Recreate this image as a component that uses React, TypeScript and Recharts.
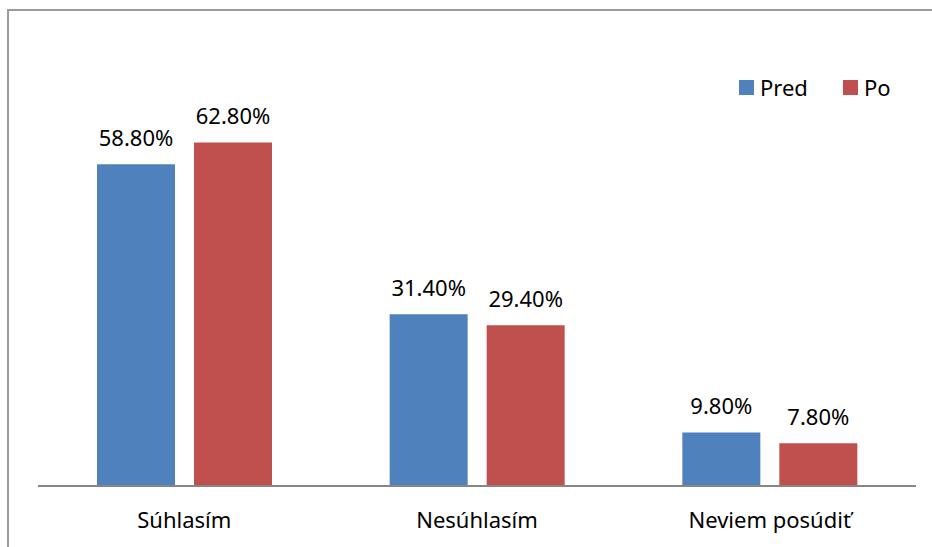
import { BarChart, Bar, XAxis, YAxis, LabelList } from 'recharts';

const categories = ['Súhlasím', 'Nesúhlasím', 'Neviem posúdiť'];
const pred = [58.8, 31.4, 9.8];
const po = [62.8, 29.4, 7.8];

const BLUE = '#4F81BD';
const RED = '#C0504D';
const FONT = '"Noto Sans", sans-serif';
const FS = 22;

const data = categories.map((name, i) => ({ name, pred: pred[i], po: po[i] }));

function LegendBox() {
  const item = (color: string, label: string, width: number) => (
    <div style={{ display: 'flex', alignItems: 'center', width }}>
      <span style={{ width: 15, height: 15, background: color, display: 'inline-block', marginRight: 6 }} />
      <span style={{ fontSize: FS, color: '#000', fontFamily: FONT, lineHeight: '22px' }}>{label}</span>
    </div>
  );
  return (
    <div style={{ position: 'absolute', left: 739, top: 76, display: 'flex' }}>
      {item(BLUE, 'Pred', 104)}
      {item(RED, 'Po', 60)}
    </div>
  );
}

export default function App() {
  return (
    <div style={{ position: 'absolute', left: 0, top: 0, width: 932, height: 547, overflow: 'hidden', background: '#fff' }}>
      <div
        style={{
          position: 'absolute',
          left: 7,
          top: 9,
          width: 960,
          height: 600,
          borderLeft: '2px solid #9a9a9a',
          borderTop: '2px solid #9a9a9a',
        }}
      />
      <div style={{ position: 'absolute', left: 0, top: 0 }}>
        <BarChart
          width={932}
          height={547}
          data={data}
          margin={{ top: 103, right: 16, left: 38, bottom: 21 }}
          barSize={78}
          barGap={19}
        >
          <XAxis
            dataKey="name"
            height={40}
            tickLine={false}
            tickSize={0}
            tickMargin={26}
            axisLine={{ stroke: '#868686', strokeWidth: 2 }}
            tick={{ fill: '#000', fontSize: FS, fontFamily: FONT }}
          />
          <YAxis hide domain={[0, 70]} />
          <Bar dataKey="pred" name="Pred" fill={BLUE} isAnimationActive={false}>
            <LabelList
              dataKey="pred"
              position="top"
              offset={18}
              formatter={(v: number) => `${v.toFixed(2)}%`}
              style={{ fill: '#000', fontSize: FS, fontFamily: FONT }}
            />
          </Bar>
          <Bar dataKey="po" name="Po" fill={RED} isAnimationActive={false}>
            <LabelList
              dataKey="po"
              position="top"
              offset={18}
              formatter={(v: number) => `${v.toFixed(2)}%`}
              style={{ fill: '#000', fontSize: FS, fontFamily: FONT }}
            />
          </Bar>
        </BarChart>
      </div>
      <LegendBox />
    </div>
  );
}
